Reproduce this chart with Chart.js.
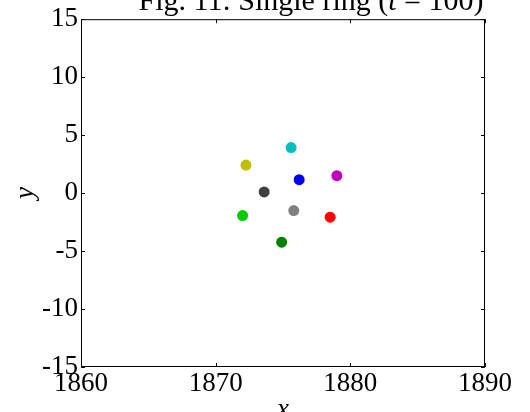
<!DOCTYPE html>
<html>
<head>
<meta charset="utf-8">
<script src="https://cdn.jsdelivr.net/npm/chart.js@4.4.1/dist/chart.umd.min.js"></script>
<style>
  html, body { margin: 0; padding: 0; background: #fff; }
  #wrap { width: 530px; height: 412px; position: relative; }
</style>
</head>
<body>
<div id="wrap"><canvas id="ringChart"></canvas></div>
<script>
// particle positions at t = 100
const xs = [1875.6, 1872.25, 1876.2, 1879.0, 1873.6, 1872.0, 1875.8, 1878.5, 1874.9];
const ys = [3.93, 2.42, 1.16, 1.5, 0.1, -1.94, -1.51, -2.08, -4.23];
const colors = ["#00bfbf", "#bfbf00", "#0000ff", "#bf00bf", "#404040", "#00cc00", "#808080", "#ff0000", "#008000"];
const xTicks = [1860, 1870, 1880, 1890];
const yTicks = [-15, -10, -5, 0, 5, 10, 15];

const serif = "'Liberation Serif', 'Times New Roman', serif";

// inward ticks on all four sides + box + title
const framePlugin = {
  id: "frame",
  afterDraw(chart) {
    const { ctx, chartArea: a, scales } = chart;
    ctx.save();
    ctx.strokeStyle = "#000";
    ctx.lineWidth = 1;
    ctx.strokeRect(a.left + 0.5, a.top + 0.5, a.right - a.left - 1, a.bottom - a.top - 1);
    ctx.beginPath();
    xTicks.forEach(v => {
      const px = Math.round(scales.x.getPixelForValue(v)) + 0.5;
      ctx.moveTo(px, a.bottom); ctx.lineTo(px, a.bottom - 4);
      ctx.moveTo(px, a.top); ctx.lineTo(px, a.top + 4);
    });
    yTicks.forEach(v => {
      const py = Math.round(scales.y.getPixelForValue(v)) + 0.5;
      ctx.moveTo(a.left, py); ctx.lineTo(a.left + 4, py);
      ctx.moveTo(a.right, py); ctx.lineTo(a.right - 4, py);
    });
    ctx.stroke();

    // title, partly cut off at top like the original
    const parts = [
      ["Fig. 11: Single ring (", "normal"],
      ["t", "italic"],
      [" = 100)", "normal"]
    ];
    ctx.fillStyle = "#000";
    ctx.textBaseline = "alphabetic";
    let w = 0;
    parts.forEach(p => { ctx.font = p[1] + " 30px " + serif; w += ctx.measureText(p[0]).width; });
    let x = 311 - w / 2;
    parts.forEach(p => {
      ctx.font = p[1] + " 30px " + serif;
      ctx.fillText(p[0], x, 10);
      x += ctx.measureText(p[0]).width;
    });
    ctx.restore();
  }
};

new Chart(document.getElementById("ringChart"), {
  type: "scatter",
  data: {
    datasets: [{
      data: xs.map((x, i) => ({ x: x, y: ys[i] })),
      backgroundColor: colors,
      borderColor: colors,
      pointRadius: 5.5,
      pointBorderWidth: 0
    }]
  },
  options: {
    responsive: true,
    maintainAspectRatio: false,
    animation: false,
    layout: { padding: { top: 18, right: 45, left: 0, bottom: 0 } },
    plugins: { legend: { display: false }, tooltip: { enabled: false } },
    scales: {
      x: {
        type: "linear",
        min: 1860, max: 1890,
        afterBuildTicks: s => { s.ticks = xTicks.map(v => ({ value: v })); },
        afterFit: s => { s.height = 45; },
        grid: { display: false, drawTicks: false },
        border: { display: false },
        ticks: { color: "#000", padding: 1, font: { family: serif, size: 27 }, callback: v => String(v) },
        title: {
          display: true, text: "x", color: "#000",
          font: { family: serif, size: 27, style: "italic" },
          padding: { top: 0, bottom: -14 }
        }
      },
      y: {
        type: "linear",
        min: -15, max: 15,
        afterBuildTicks: s => { s.ticks = yTicks.map(v => ({ value: v })); },
        afterFit: s => { s.width = 81; },
        grid: { display: false, drawTicks: false },
        border: { display: false },
        ticks: { color: "#000", padding: 3, font: { family: serif, size: 27 }, callback: v => String(v) },
        title: {
          display: true, text: "y", color: "#000",
          font: { family: serif, size: 27, style: "italic" },
          padding: { top: 10, bottom: 0 }
        }
      }
    }
  },
  plugins: [framePlugin]
});
</script>
</body>
</html>
